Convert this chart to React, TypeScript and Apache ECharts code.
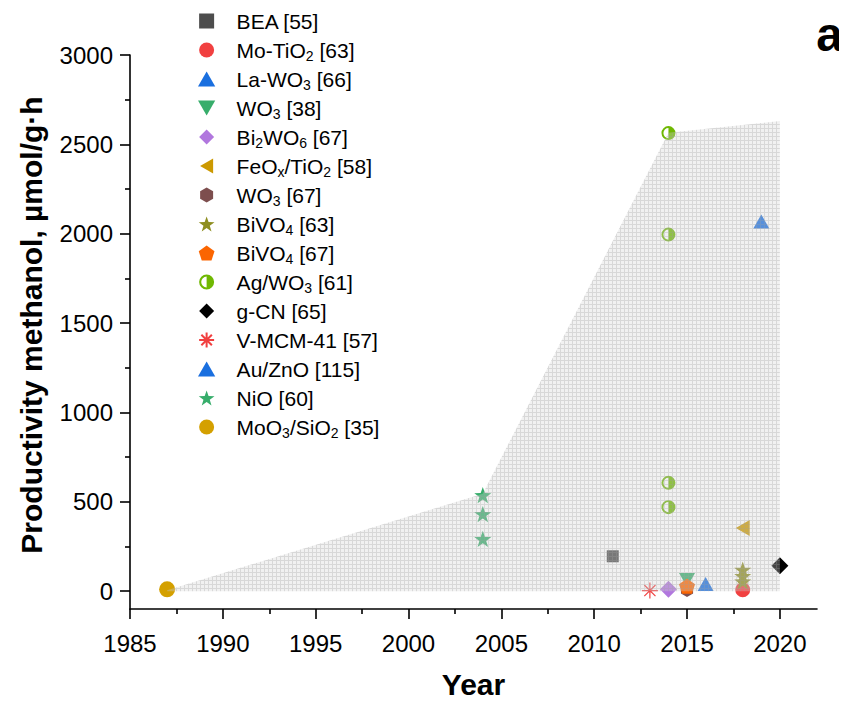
import React, { useEffect, useRef } from "react";
import * as echarts from "echarts";

const FONT = "'Liberation Sans', Arial, Helvetica, sans-serif";

// ---- data ----
const majorX = [1985, 1990, 1995, 2000, 2005, 2010, 2015, 2020];
const minorX = [1987.5, 1992.5, 1997.5, 2002.5, 2007.5, 2012.5, 2017.5];
const majorY = [0, 500, 1000, 1500, 2000, 2500, 3000];
const minorY = [250, 750, 1250, 1750, 2250, 2750];

const bea = [[2011, 195]];
const moTiO2 = [[2018, 8]];
const laWO3 = [[2016, 40]];
const wo3_38 = [[2015, 62]];
const bi2wo6 = [[2014, 10]];
const feoxTiO2 = [[2018, 353]];
const wo3_67 = [[2015, 6]];
const bivo4_63 = [[2018, 120], [2018, 85], [2018, 55]];
const bivo4_67 = [[2015, 28]];
const agWO3 = [[2014, 2563], [2014, 1995], [2014, 606], [2014, 470]];
const gCN = [[2020, 142]];
const vMCM41 = [[2013, 3]];
const auZnO = [[2019, 2068]];
const nio = [[2004, 537], [2004, 431], [2004, 292]];
const moo3SiO2 = [[1987, 10]];
const envelope = [[1987, 5], [2004, 545], [2014, 2565], [2020, 2630]];

const SQUARE = "path://M0,0 L100,0 L100,100 L0,100 Z";
const CIRCLE = "path://M50,0 A50,50 0 1 1 50,100 A50,50 0 1 1 50,0 Z";
const TRI_UP = "path://M50,0 L100,87 L0,87 Z";
const DIAMOND = "path://M50,0 L100,50 L50,100 L0,50 Z";
const STAR =
  "path://M50,0 L61.8,33.8 L97.6,34.5 L69,56.2 L79.4,90.5 L50,70 L20.6,90.5 L31,56.2 L2.4,34.5 L38.2,33.8 Z";
const PENTAGON = "path://M50,0 L97.6,34.5 L79.4,90.5 L20.6,90.5 L2.4,34.5 Z";
const HEXAGON = "path://M50,0 L93.3,25 L93.3,75 L50,100 L6.7,75 L6.7,25 Z";
const TRI_DOWN = "path://M0,0 L100,0 L50,87 Z";
const TRI_LEFT = "path://M0,50 L87,0 L87,100 Z";
const HALF_CIRCLE =
  "path://M50,0 A50,50 0 1 1 50,100 A50,50 0 1 1 50,0 Z M50,14 A36,36 0 1 0 50,86 A36,36 0 1 0 50,14 Z M50,14 A36,36 0 0 1 50,86 Z";
const ASTERISK = "path://M50,0 L50,100 M0,50 L100,50 M15,15 L85,85 M85,15 L15,85";

type S = {
  name: string;
  label: string;
  data: number[][];
  symbol: string;
  size: number;
  color: string;
  stroke?: boolean;
};

const seriesDefs: S[] = [
  { name: "BEA [55]", label: "BEA [55]", data: bea, symbol: SQUARE, size: 12, color: "#4d4d4d" },
  { name: "Mo-TiO2 [63]", label: "Mo-TiO{s|2} [63]", data: moTiO2, symbol: CIRCLE, size: 15, color: "#f14040" },
  { name: "La-WO3 [66]", label: "La-WO{s|3} [66]", data: laWO3, symbol: TRI_UP, size: 16, color: "#1a6fdf" },
  { name: "WO3 [38]", label: "WO{s|3} [38]", data: wo3_38, symbol: TRI_DOWN, size: 16, color: "#37ad6b" },
  { name: "Bi2WO6 [67]", label: "Bi{s|2}WO{s|6} [67]", data: bi2wo6, symbol: DIAMOND, size: 17, color: "#b177de" },
  { name: "FeOx/TiO2 [58]", label: "FeO{s|x}/TiO{s|2} [58]", data: feoxTiO2, symbol: TRI_LEFT, size: 16, color: "#cc9900" },
  { name: "WO3 [67]", label: "WO{s|3} [67]", data: wo3_67, symbol: HEXAGON, size: 14, color: "#7d4e4e" },
  { name: "BiVO4 [63]", label: "BiVO{s|4} [63]", data: bivo4_63, symbol: STAR, size: 17, color: "#8e8e20" },
  { name: "BiVO4 [67]", label: "BiVO{s|4} [67]", data: bivo4_67, symbol: PENTAGON, size: 16, color: "#fb6501" },
  { name: "Ag/WO3 [61]", label: "Ag/WO{s|3} [61]", data: agWO3, symbol: HALF_CIRCLE, size: 14, color: "#6fb802" },
  { name: "g-CN [65]", label: "g-CN [65]", data: gCN, symbol: DIAMOND, size: 17, color: "#000000" },
  { name: "V-MCM-41 [57]", label: "V-MCM-41 [57]", data: vMCM41, symbol: ASTERISK, size: 16, color: "#f14040", stroke: true },
  { name: "Au/ZnO [115]", label: "Au/ZnO [115]", data: auZnO, symbol: TRI_UP, size: 16, color: "#1a6fdf" },
  { name: "NiO [60]", label: "NiO [60]", data: nio, symbol: STAR, size: 17, color: "#37ad6b" },
  { name: "MoO3/SiO2 [35]", label: "MoO{s|3}/SiO{s|2} [35]", data: moo3SiO2, symbol: CIRCLE, size: 16, color: "#d4a000" },
];

function makePattern(): string {
  const c = document.createElement("canvas");
  c.width = 4;
  c.height = 4;
  const ctx = c.getContext("2d");
  if (ctx) {
    ctx.fillStyle = "rgba(210,210,210,0.32)";
    ctx.fillRect(0, 0, 4, 4);
    ctx.fillStyle = "rgba(160,160,160,0.30)";
    ctx.fillRect(0, 0, 4, 1);
    ctx.fillRect(0, 1, 1, 3);
  }
  return c.toDataURL();
}

export default function App() {
  const ref = useRef<HTMLDivElement>(null);

  useEffect(() => {
    if (!ref.current) return;
    const chart = echarts.init(ref.current, undefined, { renderer: "svg" });
    const labelMap: Record<string, string> = {};
    seriesDefs.forEach((d) => (labelMap[d.name] = d.label));

    const axisLineStyle = { color: "#000", width: 1.6 };

    const scatterSeries = seriesDefs.map((d) => ({
      type: "scatter",
      name: d.name,
      data: d.data,
      symbol: d.symbol,
      symbolSize: d.size,
      symbolKeepAspect: true,
      xAxisIndex: 0,
      yAxisIndex: 0,
      z: 2,
      itemStyle: d.stroke
        ? { color: d.color, borderColor: d.color, borderWidth: 1.2, opacity: 1 }
        : { color: d.color, opacity: 1 },
    }));

    const option: any = {
      animation: false,
      textStyle: { fontFamily: FONT },
      grid: { left: 117, right: 30, top: 47, bottom: 92, containLabel: false },
      legend: {
        orient: "vertical",
        left: 190,
        top: 0,
        padding: 0,
        itemWidth: 50,
        itemHeight: 15,
        itemGap: 3,
        symbolKeepAspect: true,
        data: seriesDefs.map((d) => d.name),
        formatter: (name: string) => labelMap[name] || name,
        textStyle: {
          fontFamily: FONT,
          fontSize: 21,
          color: "#000",
          lineHeight: 26,
          rich: {
            s: { fontFamily: FONT, fontSize: 14, lineHeight: 14, verticalAlign: "bottom", color: "#000" },
          },
        },
      },
      xAxis: [
        {
          type: "value",
          min: 1985,
          max: 2022,
          position: "bottom",
          name: "Year",
          nameLocation: "middle",
          nameGap: 60,
          nameTextStyle: { fontFamily: FONT, fontSize: 30, fontWeight: "bold", color: "#000" },
          axisLine: { show: true, onZero: false, lineStyle: axisLineStyle },
          axisTick: { show: true, length: 10, customValues: majorX, lineStyle: axisLineStyle },
          axisLabel: {
            customValues: majorX,
            fontFamily: FONT,
            fontSize: 24,
            color: "#000",
            margin: 22,
            formatter: (v: number) => String(v),
          },
          splitLine: { show: false },
        },
        {
          type: "value",
          min: 1985,
          max: 2022,
          position: "bottom",
          axisLine: { show: false, onZero: false },
          axisTick: { show: true, length: 5, customValues: minorX, lineStyle: axisLineStyle },
          axisLabel: { show: false },
          splitLine: { show: false },
        },
      ],
      yAxis: [
        {
          type: "value",
          min: -100,
          max: 3000,
          position: "left",
          name: "Productivity methanol, µmol/g·h",
          nameLocation: "middle",
          nameGap: 84,
          nameTextStyle: {
            fontFamily: FONT,
            fontSize: 30,
            fontWeight: "bold",
            color: "#000",
            padding: [0, 0, 0, 14],
          },
          axisLine: { show: true, onZero: false, lineStyle: axisLineStyle },
          axisTick: { show: true, length: 10, customValues: majorY, lineStyle: axisLineStyle },
          axisLabel: {
            customValues: majorY,
            fontFamily: FONT,
            fontSize: 24,
            color: "#000",
            margin: 17,
            formatter: (v: number) => String(v),
          },
          splitLine: { show: false },
        },
        {
          type: "value",
          min: -100,
          max: 3000,
          position: "left",
          axisLine: { show: false, onZero: false },
          axisTick: { show: true, length: 5, customValues: minorY, lineStyle: axisLineStyle },
          axisLabel: { show: false },
          splitLine: { show: false },
        },
      ],
      graphic: [
        {
          type: "text",
          right: 4,
          top: 2,
          style: { text: "a", fontFamily: FONT, fontSize: 48, fontWeight: "bold", fill: "#000" },
        },
      ],
      series: [
        ...scatterSeries,
        {
          type: "line",
          name: "envelope",
          data: envelope,
          xAxisIndex: 0,
          yAxisIndex: 0,
          symbol: "none",
          silent: true,
          z: 5,
          lineStyle: { width: 0, opacity: 0 },
          areaStyle: {
            origin: 0,
            opacity: 1,
            color: { image: makePattern(), repeat: "repeat", imageWidth: 4, imageHeight: 4 },
          },
        },
      ],
    };
    chart.setOption(option);
    return () => chart.dispose();
  }, []);

  return <div ref={ref} style={{ width: 839, height: 696 }} />;
}
